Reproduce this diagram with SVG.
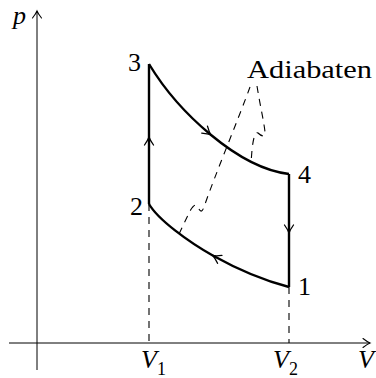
<svg xmlns="http://www.w3.org/2000/svg" width="376" height="378" viewBox="0 0 376 378">
<defs>
<marker id="ax" markerUnits="userSpaceOnUse" markerWidth="16" markerHeight="16" viewBox="-10 -8 12 16" refX="0" refY="0" orient="auto" overflow="visible">
<path d="M-7,-4.5 Q-2.5,-1 0,0 Q-2.5,1 -7,4.5" fill="none" stroke="#000" stroke-width="1.1" stroke-linecap="round"/>
</marker>
<marker id="mid" markerUnits="userSpaceOnUse" markerWidth="16" markerHeight="16" viewBox="-10 -8 12 16" refX="0" refY="0" orient="auto" overflow="visible">
<path d="M-8,-4.5 Q-3,-1 0,0 Q-3,1 -8,4.5" fill="none" stroke="#000" stroke-width="1.3" stroke-linecap="round"/>
</marker>
</defs>
<style>
.axis{stroke:#000;stroke-width:1;fill:none}
.cyc{stroke:#000;stroke-width:2.4;fill:none;stroke-linejoin:miter}
.dash{stroke:#000;stroke-width:1.1;fill:none;stroke-dasharray:7 6}
text{font-family:'Liberation Serif','Times New Roman',serif;font-size:26px;fill:#000}
.it{font-style:italic}
.sub{font-size:18px;font-style:normal}
</style>
<g id="axes">
<path class="axis" d="M37,370 V11" marker-end="url(#ax)"/>
<path class="axis" d="M9,343 H370" marker-end="url(#ax)"/>
<text class="it" font-family="Liberation Serif, serif" x="13" y="24">p</text>
<text class="it" font-family="Liberation Serif, serif" x="358" y="368">V</text>
</g>
<g id="connectors">
<path class="dash" d="M149,204 V343"/>
<path class="dash" d="M289,287 V343"/>
<path class="dash" d="M257,86 C260,105 264,122 265,132 C266,138 261,136 258,133 C255,131 253,140 252,150 L251,163"/>
<path class="dash" d="M250,87 C238,120 215,175 204,207 C202,213 200,212 198,207 C196,203 193,206 190,211 L179,234"/>
<path class="cyc" d="M149,204 L149,137 L149,64" marker-mid="url(#mid)"/>
<path class="cyc" d="M149,64 C163.5,88 185.75,114 210.75,134.75 C235.75,155.5 263.5,171 289,174" marker-mid="url(#mid)"/>
<path class="cyc" d="M289,174 L289,233 L289,287" marker-mid="url(#mid)"/>
<path class="cyc" d="M289,287 C264.7,280.7 237.16,269.12 212.76,255.49 C188.36,241.86 157.8,219.4 149,204" marker-mid="url(#mid)"/>
</g>
<g id="n3"><text font-family="Liberation Serif, serif" x="128" y="71">3</text></g>
<g id="n2"><text font-family="Liberation Serif, serif" x="130" y="215">2</text></g>
<g id="n4"><text font-family="Liberation Serif, serif" x="298" y="183">4</text></g>
<g id="n1"><text font-family="Liberation Serif, serif" x="298" y="295">1</text></g>
<g id="adiabaten"><text font-family="Liberation Serif, serif" font-size="29" x="247" y="78" textLength="125" lengthAdjust="spacingAndGlyphs">Adiabaten</text></g>
<g id="v1"><text class="it" font-family="Liberation Serif, serif" x="141" y="368">V<tspan class="sub" dy="7">1</tspan></text></g>
<g id="v2"><text class="it" font-family="Liberation Serif, serif" x="273" y="368">V<tspan class="sub" dy="7">2</tspan></text></g>
</svg>
